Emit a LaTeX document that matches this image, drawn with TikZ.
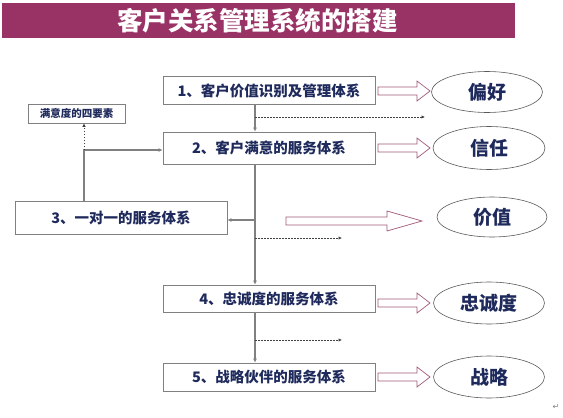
\documentclass[tikz,border=0pt]{standalone}
\usepackage{fontspec}
\setmainfont{Noto Sans CJK SC}
\newfontfamily\symfont{DejaVu Sans}
\usetikzlibrary{arrows.meta,shapes.geometric}
\definecolor{barred}{RGB}{153,51,102}
\definecolor{navy}{RGB}{31,42,92}
\definecolor{mauve}{RGB}{160,90,120}
\tikzset{
  sysbox/.style={draw=gray, line width=0.8pt, fill=white, minimum width=212pt, minimum height=28pt, inner sep=0pt, text=navy, font=\fontsize{14.5}{16}\selectfont\bfseries},
  goal/.style={draw=gray!70!black, line width=0.6pt, ellipse, minimum width=111pt, minimum height=41pt, inner sep=0pt, text=navy, font=\fontsize{19}{21}\selectfont\bfseries},
  flow/.style={draw=gray, line width=1.1pt, -{Latex[length=4pt,width=4pt]}},
  hint/.style={draw=black!75, line width=1pt, dash pattern=on 1.5pt off 1.5pt, -{Latex[length=3.5pt,width=3.5pt]}},
  fatarrow/.style={draw=mauve, line width=0.7pt, fill=white}
}
% hollow block arrow: x start, x tip, y, x where the head begins
\newcommand{\fatarrow}[4]{\draw[fatarrow] (#1,#3-4) -- (#4,#3-4) -- (#4,#3-10) -- (#2,#3) -- (#4,#3+10) -- (#4,#3+4) -- (#1,#3+4) -- cycle;}
\begin{document}
\begin{tikzpicture}[x=1pt, y=-1pt]
	\useasboundingbox (0,0) rectangle (563,418);
	% title bar
	\fill[barred] (2,3) rectangle (515,38);
	\node[text=white, font=\fontsize{25.5}{28}\selectfont\bfseries] (title) at (257.5,20.5) {客户关系管理系统的搭建};
	% boxes
	\node[sysbox] (b1) at (269,90.5) {1、客户价值识别及管理体系};
	\node[sysbox, minimum height=32pt] (b2) at (269,148) {2、客户满意的服务体系};
	\node[sysbox, minimum height=33pt] (b3) at (121,217.5) {3、一对一的服务体系};
	\node[sysbox, minimum height=27pt] (b4) at (269,298.5) {4、忠诚度的服务体系};
	\node[sysbox] (b5) at (269,377) {5、战略伙伴的服务体系};
	\node[draw=gray, line width=0.8pt, minimum width=97pt, minimum height=19pt, inner sep=0pt, text=navy, font=\fontsize{10.5}{12}\selectfont\bfseries] (four) at (76.5,113.5) {满意度的四要素};
	% ellipses
	\node[goal] (e1) at (487,92) {偏好};
	\node[goal, minimum width=112pt, minimum height=43pt] (e2) at (489,148) {信任};
	\node[goal, minimum width=110pt, minimum height=40pt] (e3) at (492,217) {价值};
	\node[goal, minimum height=42pt] (e4) at (489,303) {忠诚度};
	\node[goal, minimum height=42pt] (e5) at (489,377) {战略};
	% block arrows
	\fatarrow{378}{430}{91}{417}
	\fatarrow{378}{430}{148}{417}
	\fatarrow{286}{422}{221}{387}
	\fatarrow{378}{430}{303}{417}
	\fatarrow{378}{430}{377}{417}
	% main flow
	\coordinate (s1) at (255,104);
	\coordinate (s2) at (255,164);
	\coordinate (s4) at (255,312);
	\coordinate (branch) at (255,220);
	\coordinate (up) at (84,150);
	\coordinate (d1) at (255,117);
	\coordinate (d1e) at (425,117);
	\coordinate (d2) at (255,238);
	\coordinate (d2e) at (342,238);
	\coordinate (d3) at (255,340);
	\coordinate (d3e) at (342,340);
	\draw[flow] (s1) -- (b1.south -| s1) -- (b2.north -| s1);
	\draw[flow] (s2) -- (b4.north -| s2);
	\draw[flow] (s4) -- (b5.north -| s4);
	\draw[flow] (branch) -- (b3.east |- branch);
	\draw[flow] (b3.north -| up) -- (up) -- (b2.west |- up);
	\draw[hint] (up) -- (four.south -| up);
	\draw[hint] (d1) -- (d1e);
	\draw[hint] (d2) -- (d2e);
	\draw[hint] (d3) -- (d3e);
	\node[text=gray, font=\symfont\fontsize{8}{9}\selectfont] (ret) at (556,407) {↵};
\end{tikzpicture}
\end{document}
